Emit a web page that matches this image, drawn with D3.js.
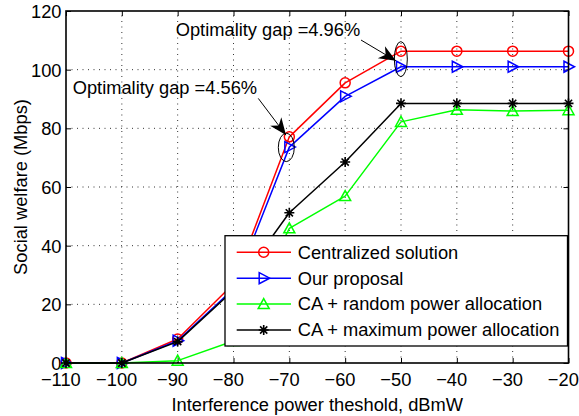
<!DOCTYPE html>
<html>
<head>
<meta charset="utf-8">
<script src="https://cdn.jsdelivr.net/npm/d3@7"></script>
<style>
  html, body { margin: 0; padding: 0; background: #fff; }
  svg { display: block; font-family: "Liberation Sans", Arial, Helvetica, sans-serif; }
</style>
</head>
<body>
<svg id="chart" width="579" height="416"></svg>
<script>
// Interference power threshold (dBmW)
const thresholds = [-110, -100, -90, -80, -70, -60, -50, -40, -30, -20];
// Social welfare (Mbps) per scheme
const centralized = [0, 0, 8.2, 27.0, 77.1, 95.5, 106.3, 106.3, 106.3, 106.3];
const proposal    = [0, 0, 7.6, 25.3, 73.6, 90.9, 101.0, 101.0, 101.0, 101.0];
const randomPower = [0, 0, 0.8, 7.5, 45.9, 56.9, 82.2, 86.3, 85.9, 86.2];
const maxPower    = [0, 0, 7.3, 24.8, 51.2, 68.5, 88.5, 88.5, 88.5, 88.5];

const xTicks = [-110, -100, -90, -80, -70, -60, -50, -40, -30, -20];
const yTicks = [0, 20, 40, 60, 80, 100, 120];

const seriesNames = ["Centralized solution", "Our proposal", "CA + random power allocation", "CA + maximum power allocation"];
const seriesValues = [centralized, proposal, randomPower, maxPower];
const seriesColors = ["#ff0000", "#0000ff", "#00ff00", "#000000"];
const seriesMarkers = ["circle", "triRight", "triUp", "star"];

const FONT = "18.3px";
const svg = d3.select("#chart");
const margin = { left: 66, top: 11, right: 10.5, bottom: 53 };
const W = 579, H = 416;
const x = d3.scaleLinear().domain([-110, -20]).range([margin.left, W - margin.right]);
const y = d3.scaleLinear().domain([0, 120]).range([H - margin.bottom, margin.top]);
const x0 = x.range()[0], x1 = x.range()[1], y0 = y.range()[0], y1 = y.range()[1];

// dotted grid
const grid = svg.append("g").attr("stroke", "#333").attr("stroke-width", 1).attr("stroke-dasharray", "1,4.5");
xTicks.slice(1, -1).forEach(t => grid.append("line").attr("x1", x(t)).attr("x2", x(t)).attr("y1", y0).attr("y2", y1));
yTicks.slice(1, -1).forEach(t => grid.append("line").attr("x1", x0).attr("x2", x1).attr("y1", y(t)).attr("y2", y(t)));

// axes with inward ticks on all four sides
const tickLen = 5;
const axB = svg.append("g").attr("transform", `translate(0,${y0})`)
  .call(d3.axisBottom(x).tickValues(xTicks).tickSizeInner(-tickLen).tickSizeOuter(0).tickFormat(d => d < 0 ? "\u2212" + Math.abs(d) : d));
const axT = svg.append("g").attr("transform", `translate(0,${y1})`)
  .call(d3.axisTop(x).tickValues(xTicks).tickSizeInner(-tickLen).tickSizeOuter(0).tickFormat(""));
const axL = svg.append("g").attr("transform", `translate(${x0},0)`)
  .call(d3.axisLeft(y).tickValues(yTicks).tickSizeInner(-tickLen).tickSizeOuter(0).tickPadding(4.5));
const axR = svg.append("g").attr("transform", `translate(${x1},0)`)
  .call(d3.axisRight(y).tickValues(yTicks).tickSizeInner(-tickLen).tickSizeOuter(0).tickFormat(""));
[axB, axT, axL, axR].forEach(a => {
  a.select(".domain").remove();
  a.selectAll(".tick line").attr("stroke", "#000").attr("stroke-width", 1);
  a.selectAll("text").attr("fill", "#000").style("font-size", FONT).style("font-family", "'Liberation Sans', Arial, sans-serif");
});
// bottom labels sit slightly left of their ticks
axB.selectAll("text").attr("dy", null).attr("y", 23).attr("x", -5.7);
axL.selectAll("text").attr("dy", "0.36em");

// data lines
const line = d3.line().x((d, i) => x(thresholds[i])).y(d => y(d));
const plot = svg.append("g");

function drawMarker(g, type, color) {
  if (type === "circle") {
    g.append("circle").attr("r", 5).attr("fill", "none").attr("stroke", color).attr("stroke-width", 1.5);
  } else if (type === "triRight") {
    g.append("path").attr("d", "M-4.5,-5.5L6,0L-4.5,5.5Z").attr("fill", "none").attr("stroke", color).attr("stroke-width", 1.5);
  } else if (type === "triUp") {
    g.append("path").attr("d", "M0,-5.5L5.5,4.5L-5.5,4.5Z").attr("fill", "none").attr("stroke", color).attr("stroke-width", 1.5);
  } else if (type === "star") {
    g.append("path").attr("d", "M-5,0L5,0M0,-5L0,5M-3.6,-3.6L3.6,3.6M-3.6,3.6L3.6,-3.6")
      .attr("fill", "none").attr("stroke", color).attr("stroke-width", 1.6);
  }
}

seriesValues.forEach((vals, s) => {
  plot.append("path").datum(vals).attr("d", line).attr("fill", "none")
    .attr("stroke", seriesColors[s]).attr("stroke-width", 1.5).attr("stroke-linejoin", "round");
  vals.forEach((v, i) => {
    const g = plot.append("g").attr("transform", `translate(${x(thresholds[i])},${y(v)})`);
    drawMarker(g, seriesMarkers[s], seriesColors[s]);
  });
});

// plot box
svg.append("rect").attr("x", x0).attr("y", y1).attr("width", x1 - x0).attr("height", y0 - y1)
  .attr("fill", "none").attr("stroke", "#000").attr("stroke-width", 1.6);

// axis titles
svg.append("text").attr("x", (x0 + x1) / 2).attr("y", 411).attr("text-anchor", "middle")
  .style("font-size", FONT).text("Interference power theshold, dBmW");
svg.append("text").attr("transform", `translate(26.5,${(y0 + y1) / 2}) rotate(-90)`).attr("text-anchor", "middle")
  .style("font-size", FONT).text("Social welfare (Mbps)");

// optimality-gap annotations
const notes = [
  { text: "Optimality gap =4.56%", tx: -108.8, ty: 91.7, from: [-75.56, 90.2], to: [-70.6, 77.7], ellipse: [-70.54, 73.5], rx: 8, ry: 14.2 },
  { text: "Optimality gap =4.96%", tx: -90.35, ty: 111.4, from: [-57.16, 110.1], to: [-50.9, 103.0], ellipse: [-50.03, 103.6], rx: 6.5, ry: 17.5 }
];
const ann = svg.append("g");
notes.forEach(n => {
  ann.append("text").attr("x", x(n.tx)).attr("y", y(n.ty)).style("font-size", FONT).text(n.text);
  const ax1 = x(n.from[0]), ay1 = y(n.from[1]), ax2 = x(n.to[0]), ay2 = y(n.to[1]);
  const ang = Math.atan2(ay2 - ay1, ax2 - ax1) * 180 / Math.PI;
  ann.append("line").attr("x1", ax1).attr("y1", ay1).attr("x2", ax2).attr("y2", ay2)
    .attr("stroke", "#000").attr("stroke-width", 1);
  ann.append("path").attr("d", "M0,0L-17,-7L-12,0L-17,7Z").attr("fill", "#000")
    .attr("transform", `translate(${ax2},${ay2}) rotate(${ang})`);
  ann.append("ellipse").attr("cx", x(n.ellipse[0])).attr("cy", y(n.ellipse[1])).attr("rx", n.rx).attr("ry", n.ry)
    .attr("fill", "none").attr("stroke", "#000").attr("stroke-width", 1);
});

// legend
const lg = svg.append("g").attr("transform", "translate(225,235.7)");
lg.append("rect").attr("width", 342.5).attr("height", 110.3).attr("fill", "#fff").attr("stroke", "#000").attr("stroke-width", 1.3);
seriesNames.forEach((name, s) => {
  const cy = 16.6 + s * 25.9;
  lg.append("line").attr("x1", 11.7).attr("x2", 66).attr("y1", cy).attr("y2", cy)
    .attr("stroke", seriesColors[s]).attr("stroke-width", 1.5);
  const g = lg.append("g").attr("transform", `translate(38.7,${cy})`);
  drawMarker(g, seriesMarkers[s], seriesColors[s]);
  lg.append("text").attr("x", 72.7).attr("y", cy + 6.4).style("font-size", FONT).text(name);
});
</script>
</body>
</html>
